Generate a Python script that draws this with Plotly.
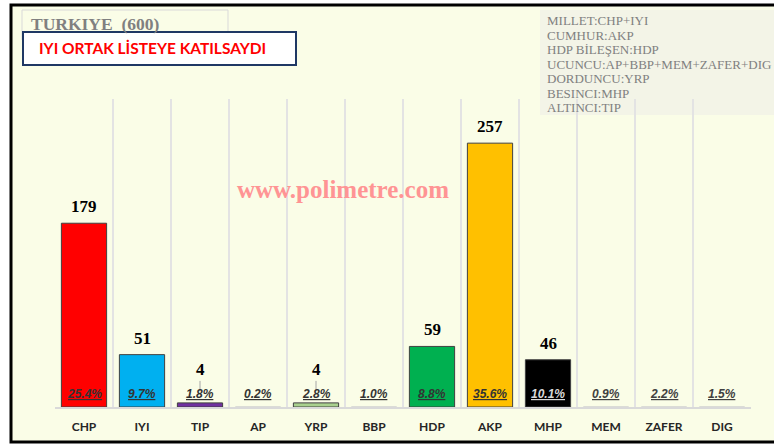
import plotly.graph_objects as go

parties = ["CHP", "IYI", "TIP", "AP", "YRP", "BBP", "HDP", "AKP", "MHP", "MEM", "ZAFER", "DIG"]
seats = [179, 51, 4, 0, 4, 0, 59, 257, 46, 0, 0, 0]
pct_labels = ["25.4%", "9.7%", "1.8%", "0.2%", "2.8%", "1.0%", "8.8%", "35.6%", "10.1%", "0.9%", "2.2%", "1.5%"]
bar_colors = ["#FF0000", "#00B0F0", "#7030A0", "#D9D9D9", "#A9D18E", "#D9D9D9",
              "#00B050", "#FFC000", "#000000", "#D9D9D9", "#D9D9D9", "#D9D9D9"]
pct_colors = ["#333333"] * 8 + ["#D9D9D9"] + ["#404040"] * 3
legend_lines = ["MILLET:CHP+IYI", "CUMHUR:AKP", "HDP BİLEŞEN:HDP", "UCUNCU:AP+BBP+MEM+ZAFER+DIG",
                "DORDUNCU:YRP", "BESINCI:MHP", "ALTINCI:TIP"]
title_text = "TURKIYE  (600)"
subtitle_text = "IYI ORTAK LİSTEYE KATILSAYDI"
watermark = "www.polimetre.com"

W, H = 774, 447
ML, MR, MT, MB = 55, 23, 99, 40
PW, PH = W - ML - MR, H - MT - MB


def px(x):
    return (x - ML) / PW


def py(y):
    return (H - MB - y) / PH


BG = "#FAFDE7"

fig = go.Figure()
fig.add_trace(go.Bar(
    x=parties, y=seats, width=0.78,
    marker=dict(color=bar_colors,
                line=dict(color=["#404040" if s > 0 else "#D0D0D0" for s in seats], width=1)),
    hoverinfo="skip",
))

annotations = []

# seat labels
for p, s in zip(parties, seats):
    if s <= 0:
        continue
    if s < 10:
        annotations.append(dict(x=p, y=s, xref="x", yref="y", text="<b>%d</b>" % s,
                                showarrow=True, arrowhead=0, arrowwidth=1, arrowcolor="#A6A6A6",
                                ax=0, ay=-33, standoff=12,
                                font=dict(family="Liberation Serif", size=17, color="#000000")))
    else:
        annotations.append(dict(x=p, y=s, xref="x", yref="y", text="<b>%d</b>" % s,
                                showarrow=False, yanchor="bottom", yshift=5,
                                font=dict(family="Liberation Serif", size=17, color="#000000")))

# percent labels
for p, t, c in zip(parties, pct_labels, pct_colors):
    annotations.append(dict(x=p, y=0, xref="x", yref="y", text="<i><b><u>%s</u></b></i>" % t,
                            showarrow=False, yanchor="middle", yshift=13,
                            font=dict(family="Liberation Sans", size=12, color=c)))

shapes = [
    # outer frame
    dict(type="rect", xref="paper", yref="paper", x0=px(11), x1=px(790), y0=py(442), y1=py(5),
         fillcolor=BG, line=dict(color="#000000", width=3), layer="below"),
    # title box
    dict(type="rect", xref="paper", yref="paper", x0=px(22), x1=px(228), y0=py(40), y1=py(10),
         fillcolor="rgba(0,0,0,0)", line=dict(color="#D9D9D9", width=1), layer="above"),
    # legend box
    dict(type="rect", xref="paper", yref="paper", x0=px(540), x1=px(790), y0=py(115), y1=py(10),
         fillcolor="#F3F4E7", line=dict(width=0), layer="below"),
    # red subtitle box
    dict(type="rect", xref="paper", yref="paper", x0=px(23), x1=px(296), y0=py(65), y1=py(32),
         fillcolor="#FFFFFF", line=dict(color="#1F3864", width=2), layer="above"),
]

annotations += [
    dict(text="<b>%s</b>" % title_text, xref="paper", yref="paper", x=px(29), y=py(24),
         xanchor="left", yanchor="middle", showarrow=False,
         font=dict(family="Liberation Serif", size=17.5, color="#808080")),
    dict(text="<b>%s</b>" % subtitle_text, xref="paper", yref="paper", x=px(37), y=py(48),
         xanchor="left", yanchor="middle", showarrow=False,
         font=dict(family="Lato", size=15.5, color="#FF0000")),
    dict(text="<b>%s</b>" % watermark, xref="paper", yref="paper", x=px(343), y=py(189),
         xanchor="center", yanchor="middle", showarrow=False,
         font=dict(family="Liberation Serif", size=25, color="#FF9494")),
]
for i, line in enumerate(legend_lines):
    annotations.append(dict(text=line, xref="paper", yref="paper", x=px(545), y=py(21 + i * 14.4),
                            xanchor="left", yanchor="middle", showarrow=False,
                            font=dict(family="Liberation Serif", size=13, color="#808080")))

fig.update_layout(
    width=W, height=H,
    margin=dict(l=ML, r=MR, t=MT, b=MB),
    paper_bgcolor="#FFFFFF", plot_bgcolor=BG,
    showlegend=False, bargap=0.22,
    shapes=shapes, annotations=annotations,
    xaxis=dict(type="category", range=[-0.5, 11.5], tickson="boundaries", showgrid=True,
               gridcolor="#E3E3E3", gridwidth=2, showline=True, linecolor="#D9D9D9", linewidth=2,
               ticks="", ticklabelstandoff=8, zeroline=False, fixedrange=True,
               tickfont=dict(family="Lato", size=12, color="#262626", weight="bold")),
    yaxis=dict(range=[0, 300], visible=False, fixedrange=True),
)

fig.write_html("out.html", config={"displayModeBar": False},
               post_script="document.body.style.margin='0';document.body.style.overflow='hidden';")
